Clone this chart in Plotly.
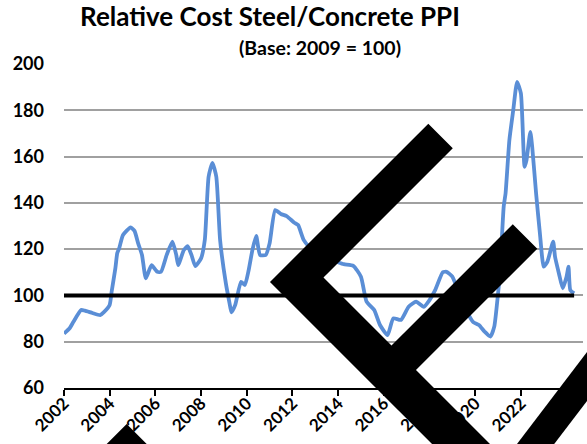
import plotly.graph_objects as go

# ---- data ----
dates = ["2002-01", "2002-04", "2002-06", "2002-10", "2002-12", "2003-04", "2003-08", "2003-10",
         "2004-01", "2004-02", "2004-04", "2004-05", "2004-06", "2004-08", "2004-12",
         "2005-02", "2005-04", "2005-06", "2005-08", "2005-11",
         "2006-02", "2006-04", "2006-07", "2006-10", "2006-12",
         "2007-01", "2007-04", "2007-06", "2007-08", "2007-10",
         "2008-01", "2008-03", "2008-05", "2008-07", "2008-09", "2008-11",
         "2009-02", "2009-04", "2009-05", "2009-07", "2009-10", "2009-12",
         "2010-02", "2010-04", "2010-06", "2010-08", "2010-11",
         "2011-01", "2011-04", "2011-07", "2011-10",
         "2012-02", "2012-04", "2012-07",
         "2013-01", "2013-07", "2013-12",
         "2014-04", "2014-09",
         "2015-01", "2015-04", "2015-08", "2015-11",
         "2016-03", "2016-06", "2016-10",
         "2017-02", "2017-06", "2017-10",
         "2018-01", "2018-04", "2018-08", "2018-10",
         "2019-01", "2019-05", "2019-09", "2019-12",
         "2020-03", "2020-06", "2020-09", "2020-11",
         "2021-01", "2021-02", "2021-04", "2021-05", "2021-07", "2021-09", "2021-11",
         "2022-01", "2022-03", "2022-04", "2022-06", "2022-07", "2022-09", "2022-11",
         "2023-01", "2023-03", "2023-06", "2023-07", "2023-09", "2023-11",
         "2024-01", "2024-02", "2024-03", "2024-05"]
ratio = [83.5, 85.8, 88.6, 93.7, 93.4, 92.4, 91.5, 92.8,
         95.9, 101.5, 111.7, 118.2, 120.3, 126.1, 129.4,
         127.9, 122.5, 117.5, 107.4, 113.1,
         110.2, 110.2, 117.5, 123.2, 117.5,
         113.1, 119.6, 121.3, 117.5, 112.7,
         116.0, 123.9, 151.3, 157.3, 151.3, 123.9,
         105.2, 96.6, 92.7, 95.9, 105.9, 104.5,
         111.0, 119.6, 125.7, 117.5, 117.5,
         122.5, 136.9, 135.2, 134.3,
         131.4, 130.4, 123.9,
         118.0, 116.0, 114.6,
         113.5, 112.8,
         108.1, 97.3, 93.7, 87.2,
         82.9, 90.1, 89.4,
         95.1, 97.3, 95.1,
         98.0, 102.3, 110.0, 110.2,
         108.1, 100.0, 92.5, 88.5,
         87.2, 84.3, 82.2, 86.5,
         100.9, 110.0, 138.3, 144.1, 167.1, 180.1, 192.3,
         187.3, 155.6, 158.5, 170.7, 164.2, 144.1, 126.8,
         112.4, 114.6, 123.2, 116.7, 109.5, 103.1,
         108.1, 112.4, 102.3, 100.9]
base_dates = ["2002-01", "2024-05"]
base_values = [100, 100]
tick_years = ["2002", "2004", "2006", "2008", "2010", "2012", "2014", "2016", "2018", "2020", "2022", "2024"]

title_text = "Relative Cost Steel/Concrete PPI"
subtitle_text = "(Base: 2009 = 100)"

# ---- layout geometry ----
W, H = 587, 444
ML, MR, MT, MB = 64, 4, 64, 56
PW, PH = W - ML - MR, H - MT - MB


def px(x, y):
    return (x - ML) / PW, (H - MB - y) / PH


def poly(points):
    pts = [px(x, y) for x, y in points]
    return "M " + " L ".join(f"{a:.4f},{b:.4f}" for a, b in pts) + " Z"


# decorative logo overlay (pixel geometry)
logo_polys = [
    [(428.3, 123.8), (452.8, 148.3), (323.5, 277.5), (391.5, 345.5), (512.8, 224.3),
     (537.3, 248.8), (416.0, 370.0), (516.0, 470.0), (458.0, 470.0), (270.0, 282.0)],
    [(504.8, 460.0), (600.0, 335.0), (600.0, 384.0), (542.0, 460.0)],
    [(126.7, 424.0), (166.7, 464.0), (86.7, 464.0)],
]

font_fam = "Lato, Calibri, Carlito, sans-serif"

fig = go.Figure()
fig.add_trace(go.Scatter(x=dates, y=ratio, mode="lines",
                         line=dict(color="#5A8ED6", width=3.8, shape="spline", smoothing=0.5),
                         hoverinfo="x+y", showlegend=False))
fig.add_trace(go.Scatter(x=base_dates, y=base_values, mode="lines",
                         line=dict(color="black", width=4), showlegend=False))

shapes = [dict(type="path", xref="paper", yref="paper", path=poly(p),
               fillcolor="black", line=dict(width=0), layer="above") for p in logo_polys]

fig.update_layout(
    width=W, height=H,
    margin=dict(l=ML, r=MR, t=MT, b=MB, autoexpand=False),
    paper_bgcolor="white", plot_bgcolor="white",
    font=dict(family=font_fam, color="black"),
    title=dict(text=title_text, xref="container", yref="container",
               x=270 / W, y=1 - 17 / H, xanchor="center", yanchor="middle",
               font=dict(family=font_fam, size=26, weight="bold", color="black")),
    annotations=[dict(text=subtitle_text, xref="paper", yref="paper",
                      x=px(320, 0)[0], y=px(0, 47)[1], xanchor="center", yanchor="middle",
                      showarrow=False, font=dict(family=font_fam, size=19.5, weight="bold"))],
    xaxis=dict(type="date", range=["2002-01-01", "2024-09-20"],
               tickvals=[f"{y}-01-01" for y in tick_years], ticktext=tick_years,
               tickangle=-45, ticks="outside", ticklen=6, tickcolor="black", tickwidth=1.5,
               showline=True, linecolor="black", linewidth=1.5, showgrid=False, zeroline=False,
               automargin=False, ticklabelstandoff=-9,
               tickfont=dict(family=font_fam, size=17, weight="bold")),
    yaxis=dict(range=[60, 200], dtick=20, tick0=60, showgrid=True, gridcolor="#A0A0A0",
               gridwidth=1.5, zeroline=False, showline=False, ticks="",
               ticklabelstandoff=19, automargin=False,
               tickfont=dict(family=font_fam, size=18, weight="bold")),
    shapes=shapes,
)

fig.write_html("out.html", config={"displayModeBar": False},
               post_script="document.body.style.margin='0';document.body.style.overflow='hidden';")
